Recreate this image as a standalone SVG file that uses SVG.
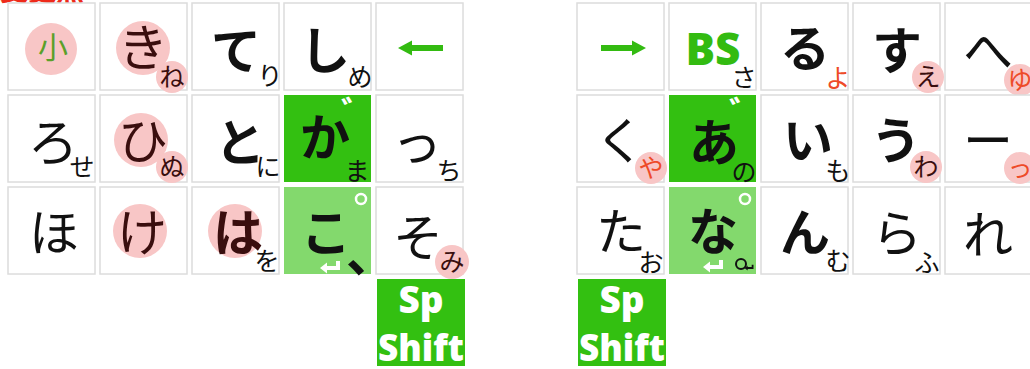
<svg xmlns="http://www.w3.org/2000/svg" width="1030" height="369" viewBox="0 0 1030 369">
<style>
.k{fill:#fff;stroke:#dcdcdc;stroke-width:1.5}
.g{fill:#33c011}
.lg{fill:#83d96d}
.m{font-family:"Noto Sans CJK JP","Noto Sans CJK SC",sans-serif;font-size:50px;text-anchor:middle;fill:#111}
.b{font-weight:700}
.s{font-size:25px;font-weight:400}
.pc{fill:#f8c6c6}
.dk{fill:#3a0e0e}
.rd{fill:#ee4a28}
.w{fill:#fff}
.gt{fill:#33bb11}
.dt{font-size:34px;font-weight:700}
.sp{font-family:"Open Sans","Liberation Sans",sans-serif;font-weight:800;font-size:37px;fill:#fff;text-anchor:middle}
.hk{fill:none;stroke:#fff;stroke-width:2.5}
</style>
<defs>
<g id="enter"><polygon points="-10,0 -3,-5.5 -3,-2 6,-2 6,-7 10,-7 10,2 -3,2 -3,5.5"/></g>
<g id="larr"><polygon points="-22,0 -8,-7.5 -8,-3 23,-3 23,3 -8,3 -8,7.5"/></g>
</defs>
<text x="0" y="1" style="font-family:'Noto Sans CJK JP',sans-serif;font-size:28px;font-weight:700;fill:#ee2a1a">変更点</text>
<g id="connectors"/>
<!-- left row 1 -->
<g id="L11"><rect class="k" x="8" y="3" width="87" height="87"/><circle class="pc" cx="51" cy="49" r="26"/><text class="m" x="53" y="58" style="font-size:30px;fill:#5aa02a">小</text></g>
<g id="L12"><rect class="k" x="100" y="3" width="87" height="87"/><circle class="pc" cx="143" cy="48" r="27"/><circle class="pc" cx="172" cy="77" r="16"/><text class="m dk" x="143" y="66">き</text><text class="m s dk" x="172" y="86">ね</text></g>
<g id="L13"><rect class="k" x="192" y="3" width="87" height="87"/><text class="m b" x="236" y="69">て</text><text class="m s" x="270" y="85">り</text></g>
<g id="L14"><rect class="k" x="284" y="3" width="87" height="87"/><text class="m b" x="325" y="69">し</text><text class="m s" x="360" y="86">め</text></g>
<g id="L15"><rect class="k" x="376" y="3" width="87" height="87"/><use href="#larr" x="420" y="48" class="gt"/></g>
<!-- left row 2 -->
<g id="L21"><rect class="k" x="8" y="95" width="87" height="87"/><text class="m" x="53" y="161">ろ</text><text class="m s" x="82" y="176">せ</text></g>
<g id="L22"><rect class="k" x="100" y="95" width="87" height="87"/><circle class="pc" cx="141" cy="140" r="27"/><circle class="pc" cx="172" cy="167" r="16"/><text class="m dk" x="143" y="159">ひ</text><text class="m s dk" x="172" y="176">ぬ</text></g>
<g id="L23"><rect class="k" x="192" y="95" width="87" height="87"/><text class="m b" x="240" y="161">と</text><text class="m s" x="268" y="176">に</text></g>
<g id="L24"><rect class="g" x="284" y="95" width="87" height="87"/><text class="m b" x="325" y="156">か</text><text class="m w dt" x="358" y="126">゛</text><text class="m s" x="357" y="180">ま</text></g>
<g id="L25"><rect class="k" x="376" y="95" width="87" height="87"/><text class="m" x="417" y="161">っ</text><text class="m s" x="449" y="180">ち</text></g>
<!-- left row 3 -->
<g id="L31"><rect class="k" x="8" y="187" width="87" height="87"/><text class="m" x="54" y="251">ほ</text></g>
<g id="L32"><rect class="k" x="100" y="187" width="87" height="87"/><circle class="pc" cx="140" cy="231" r="27"/><text class="m dk" x="142" y="251">け</text></g>
<g id="L33"><rect class="k" x="192" y="187" width="87" height="87"/><circle class="pc" cx="235" cy="231" r="27"/><text class="m b dk" x="238" y="251">は</text><text class="m s" x="267" y="270">を</text></g>
<g id="L34"><rect class="lg" x="284" y="187" width="87" height="87"/><text class="m b" x="326" y="251">こ</text><text class="m b" x="346" y="272" style="text-anchor:start">、</text><circle class="hk" cx="361" cy="199" r="5"/><use href="#enter" x="330" y="268" class="w"/></g>
<g id="L35"><rect class="k" x="376" y="187" width="87" height="87"/><circle class="pc" cx="452" cy="262" r="17"/><text class="m" x="418" y="256">そ</text><text class="m s dk" x="452" y="271">み</text></g>
<g id="L45"><rect class="g" x="377" y="279" width="88" height="87"/><text class="sp" x="421" y="313">Sp</text><text class="sp" x="421" y="361" textLength="86" lengthAdjust="spacingAndGlyphs">Shift</text></g>
<!-- right row 1 -->
<g id="R11"><rect class="k" x="577" y="3" width="87" height="87"/><use href="#larr" transform="translate(624,48) scale(-1,1)" class="gt"/></g>
<g id="R12"><rect class="k" x="669" y="3" width="87" height="87"/><text x="713" y="65" style="font-family:'Open Sans','Liberation Sans',sans-serif;font-weight:800;font-size:44px;fill:#33bb11;text-anchor:middle">BS</text><text class="m s" x="744" y="87">さ</text></g>
<g id="R13"><rect class="k" x="761" y="3" width="87" height="87"/><text class="m b" x="805" y="67">る</text><text class="m s rd" x="838" y="87">よ</text></g>
<g id="R14"><rect class="k" x="853" y="3" width="87" height="87"/><circle class="pc" cx="928" cy="77" r="16"/><text class="m b" x="897" y="69">す</text><text class="m s dk" x="928" y="86">え</text></g>
<g id="R15"><rect class="k" x="945" y="3" width="87" height="87"/><circle class="pc" cx="1020" cy="80" r="16"/><text class="m" x="988" y="69">へ</text><text class="m s rd" x="1020" y="89">ゆ</text></g>
<!-- right row 2 -->
<g id="R21"><rect class="k" x="577" y="95" width="87" height="87"/><circle class="pc" cx="651" cy="168" r="16"/><text class="m" x="620" y="159">く</text><text class="m s rd" x="651" y="177">や</text></g>
<g id="R22"><rect class="g" x="669" y="95" width="87" height="87"/><text class="m b" x="714" y="161">あ</text><text class="m w dt" x="746" y="126">゛</text><text class="m s" x="744" y="181">の</text></g>
<g id="R23"><rect class="k" x="761" y="95" width="87" height="87"/><text class="m b" x="808" y="159">い</text><text class="m s" x="838" y="180">も</text></g>
<g id="R24"><rect class="k" x="853" y="95" width="87" height="87"/><circle class="pc" cx="926" cy="167" r="16"/><text class="m b" x="896" y="159">う</text><text class="m s dk" x="926" y="176">わ</text></g>
<g id="R25"><rect class="k" x="945" y="95" width="87" height="87"/><circle class="pc" cx="1020" cy="168" r="16"/><text class="m" x="988" y="159">ー</text><text class="m s rd" x="1020" y="177">っ</text></g>
<!-- right row 3 -->
<g id="R31"><rect class="k" x="577" y="187" width="87" height="87"/><text class="m" x="621" y="250">た</text><text class="m s" x="651" y="272">お</text></g>
<g id="R32"><rect class="lg" x="669" y="187" width="87" height="87"/><text class="m b" x="713" y="250">な</text><circle class="hk" cx="745" cy="199" r="5"/><use href="#enter" x="713" y="267" class="w"/><circle cx="741" cy="264" r="5" fill="none" stroke="#111" stroke-width="2"/><use href="#enter" transform="translate(749,268) scale(0.45)" fill="#111"/></g>
<g id="R33"><rect class="k" x="761" y="187" width="87" height="87"/><text class="m b" x="805" y="251">ん</text><text class="m s" x="838" y="270">む</text></g>
<g id="R34"><rect class="k" x="853" y="187" width="87" height="87"/><text class="m" x="897" y="252">ら</text><text class="m s" x="927" y="272">ふ</text></g>
<g id="R35"><rect class="k" x="945" y="187" width="87" height="87"/><text class="m" x="988" y="253">れ</text></g>
<g id="R41"><rect class="g" x="578" y="279" width="88" height="87"/><text class="sp" x="622" y="313">Sp</text><text class="sp" x="622" y="361" textLength="86" lengthAdjust="spacingAndGlyphs">Shift</text></g>
</svg>
